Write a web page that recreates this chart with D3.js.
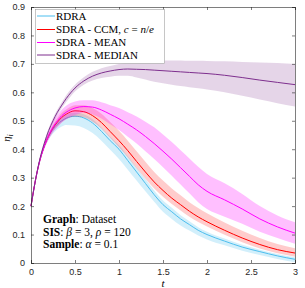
<!DOCTYPE html>
<html>
<head>
<meta charset="utf-8">
<script src="https://cdn.jsdelivr.net/npm/d3@7"></script>
<style>
body { margin: 0; background: #fff; }
svg { display: block; }
.tick text { font-family: "Liberation Sans", Arial, sans-serif; font-size: 9px; fill: #262626; }
.serif { font-family: "Liberation Serif", "Times New Roman", serif; fill: #000; }
</style>
</head>
<body>
<svg id="chart" width="305" height="288"></svg>
<script>
// time grid
var tGrid = [0,0.05,0.1,0.15,0.2,0.25,0.3,0.35,0.4,0.5,0.6,0.7,0.8,0.9,1.0,1.1,1.2,1.3,1.4,1.5,1.6,1.7,1.8,1.9,2.0,2.2,2.4,2.6,2.8,3.0];

var rdraMean = [0.2,0.29,0.36,0.41,0.445,0.47,0.488,0.5,0.509,0.516,0.51,0.492,0.463,0.43,0.4,0.36,0.32,0.28,0.24,0.205,0.18,0.155,0.135,0.115,0.1,0.077,0.056,0.04,0.025,0.013];
var rdraLo = [0.2,0.285,0.352,0.4,0.433,0.455,0.47,0.48,0.485,0.483,0.475,0.457,0.43,0.398,0.366,0.328,0.29,0.252,0.215,0.18,0.155,0.132,0.114,0.097,0.083,0.062,0.043,0.028,0.014,0.003];
var rdraHi = [0.2,0.293,0.366,0.418,0.455,0.48,0.498,0.51,0.52,0.528,0.523,0.505,0.476,0.444,0.414,0.375,0.335,0.295,0.255,0.22,0.194,0.168,0.147,0.126,0.11,0.086,0.064,0.047,0.032,0.02];

var ccmMean = [0.2,0.29,0.36,0.41,0.447,0.475,0.495,0.512,0.523,0.535,0.532,0.518,0.494,0.462,0.43,0.395,0.357,0.32,0.285,0.255,0.228,0.205,0.182,0.162,0.145,0.115,0.088,0.065,0.047,0.035];
var ccmLo = [0.2,0.287,0.355,0.402,0.436,0.462,0.48,0.495,0.505,0.515,0.512,0.497,0.473,0.44,0.407,0.372,0.333,0.296,0.262,0.233,0.207,0.185,0.163,0.144,0.128,0.099,0.073,0.051,0.034,0.022];
var ccmHi = [0.2,0.293,0.366,0.418,0.457,0.487,0.51,0.528,0.54,0.555,0.555,0.545,0.525,0.496,0.465,0.43,0.393,0.356,0.32,0.29,0.262,0.238,0.214,0.193,0.175,0.142,0.113,0.088,0.067,0.052];

var meanMean = [0.2,0.29,0.36,0.41,0.448,0.478,0.5,0.518,0.53,0.545,0.55,0.548,0.538,0.523,0.507,0.488,0.468,0.445,0.42,0.393,0.365,0.335,0.305,0.275,0.252,0.222,0.19,0.155,0.127,0.105];
var meanLo = [0.2,0.287,0.354,0.4,0.434,0.46,0.478,0.494,0.505,0.52,0.528,0.522,0.508,0.488,0.468,0.444,0.42,0.393,0.366,0.337,0.307,0.276,0.245,0.214,0.19,0.163,0.138,0.11,0.088,0.068];
var meanHi = [0.2,0.293,0.366,0.42,0.462,0.496,0.52,0.54,0.553,0.568,0.572,0.572,0.565,0.555,0.545,0.53,0.515,0.497,0.477,0.452,0.425,0.396,0.367,0.338,0.313,0.28,0.243,0.2,0.167,0.143];

var medMean = [0.2,0.29,0.365,0.42,0.465,0.5,0.53,0.555,0.578,0.615,0.64,0.657,0.668,0.675,0.68,0.682,0.681,0.68,0.678,0.676,0.674,0.672,0.67,0.668,0.666,0.66,0.652,0.643,0.635,0.627];
var medLo = [0.2,0.287,0.36,0.413,0.457,0.49,0.52,0.545,0.566,0.603,0.627,0.642,0.65,0.655,0.658,0.658,0.652,0.645,0.637,0.632,0.627,0.622,0.618,0.614,0.61,0.6,0.588,0.575,0.562,0.55];
var medHi = [0.2,0.293,0.37,0.427,0.473,0.51,0.54,0.565,0.59,0.627,0.653,0.672,0.685,0.693,0.7,0.705,0.708,0.71,0.711,0.712,0.712,0.712,0.711,0.711,0.71,0.709,0.707,0.705,0.703,0.7];

var xTicks = [0,0.5,1,1.5,2,2.5,3];
var yTicks = [0,0.1,0.2,0.3,0.4,0.5,0.6,0.7,0.8,0.9];

var series = [
	{name: "RDRA", color: "#4DBEEE", fillOp: 0.25, mean: rdraMean, lo: rdraLo, hi: rdraHi},
	{name: "CCM", color: "#FF0000", fillOp: 0.2, mean: ccmMean, lo: ccmLo, hi: ccmHi},
	{name: "MEAN", color: "#FF00FF", fillOp: 0.25, mean: meanMean, lo: meanLo, hi: meanHi},
	{name: "MEDIAN", color: "#7E2F8E", fillOp: 0.2, mean: medMean, lo: medLo, hi: medHi}
];

var svg = d3.select("#chart");
var x = d3.scaleLinear().domain([0, 3]).range([31, 295]);
var y = d3.scaleLinear().domain([0, 0.9]).range([263, 7]);

// bands and lines
series.forEach(function(s) {
	var pts = tGrid.map(function(t, i) { return {t: t, m: s.mean[i], lo: s.lo[i], hi: s.hi[i]}; });
	svg.append("path")
		.datum(pts)
		.attr("fill", s.color)
		.attr("fill-opacity", s.fillOp)
		.attr("d", d3.area().curve(d3.curveMonotoneX)
			.x(function(d) { return x(d.t); })
			.y0(function(d) { return y(d.lo); })
			.y1(function(d) { return y(d.hi); }));
	svg.append("path")
		.datum(pts)
		.attr("fill", "none")
		.attr("stroke", s.color)
		.attr("stroke-width", 1)
		.attr("d", d3.line().curve(d3.curveMonotoneX)
			.x(function(d) { return x(d.t); })
			.y(function(d) { return y(d.m); }));
});

// axes, matlab style box with inward ticks
var axCol = "#262626";
var fmt = function(d) { return String(d); };
var gx = svg.append("g").attr("transform", "translate(0,263)")
	.call(d3.axisBottom(x).tickValues(xTicks).tickSize(-3).tickPadding(6).tickFormat(fmt));
var gy = svg.append("g").attr("transform", "translate(31,0)")
	.call(d3.axisLeft(y).tickValues(yTicks).tickSize(-3).tickPadding(6).tickFormat(fmt));
var gxt = svg.append("g").attr("transform", "translate(0,7)")
	.call(d3.axisTop(x).tickValues(xTicks).tickSize(-3).tickFormat(""));
var gyr = svg.append("g").attr("transform", "translate(295,0)")
	.call(d3.axisRight(y).tickValues(yTicks).tickSize(-3).tickFormat(""));
[gx, gy, gxt, gyr].forEach(function(g) {
	g.select(".domain").attr("stroke", axCol).attr("stroke-width", 0.6);
	g.selectAll(".tick line").attr("stroke", axCol).attr("stroke-width", 0.6);
});

// axis labels
svg.append("text").attr("class", "serif")
	.attr("x", 163).attr("y", 286.5).attr("text-anchor", "middle")
	.style("font-size", "11px").style("font-style", "italic").text("t");
var yl = svg.append("text").attr("class", "serif")
	.attr("transform", "translate(10,138) rotate(-90)")
	.attr("text-anchor", "middle").style("font-size", "11px");
yl.append("tspan").style("font-style", "italic").text("η");
yl.append("tspan").attr("dy", 3).style("font-size", "8px").style("font-style", "italic").text("i");

// legend
var lg = svg.append("g");
lg.append("rect").attr("x", 35.5).attr("y", 9.5).attr("width", 129).attr("height", 54)
	.attr("fill", "#fff").attr("stroke", "#a0a0a0").attr("stroke-width", 0.6);
var legRows = [16, 29.5, 42.5, 55];
var legLabels = [
	[["RDRA", ""]],
	[["SDRA - CCM, ", ""], ["c", "i"], [" = ", ""], ["n", "i"], ["/", ""], ["e", "i"]],
	[["SDRA - MEAN", ""]],
	[["SDRA - MEDIAN", ""]]
];
series.forEach(function(s, i) {
	lg.append("line").attr("x1", 37).attr("x2", 55)
		.attr("y1", legRows[i]).attr("y2", legRows[i])
		.attr("stroke", s.color).attr("stroke-width", 1);
	var t = lg.append("text").attr("class", "serif")
		.attr("x", 56).attr("y", legRows[i] + 3.8).style("font-size", "11px");
	legLabels[i].forEach(function(p) {
		t.append("tspan").style("font-style", p[1] ? "italic" : "normal").text(p[0]);
	});
});

// annotation
var notes = [
	[["Graph", "b"], [": Dataset", ""]],
	[["SIS", "b"], [": ", ""], ["β", "i"], [" = 3, ", ""], ["ρ", "i"], [" = 120", ""]],
	[["Sample", "b"], [": ", ""], ["α", "i"], [" = 0.1", ""]]
];
var noteY = [223, 235.5, 248];
notes.forEach(function(n, i) {
	var t = svg.append("text").attr("class", "serif")
		.attr("x", 43).attr("y", noteY[i]).style("font-size", "11.5px");
	n.forEach(function(p) {
		t.append("tspan")
			.style("font-weight", p[1] == "b" ? "bold" : "normal")
			.style("font-style", p[1] == "i" ? "italic" : "normal")
			.text(p[0]);
	});
});
</script>
</body>
</html>
